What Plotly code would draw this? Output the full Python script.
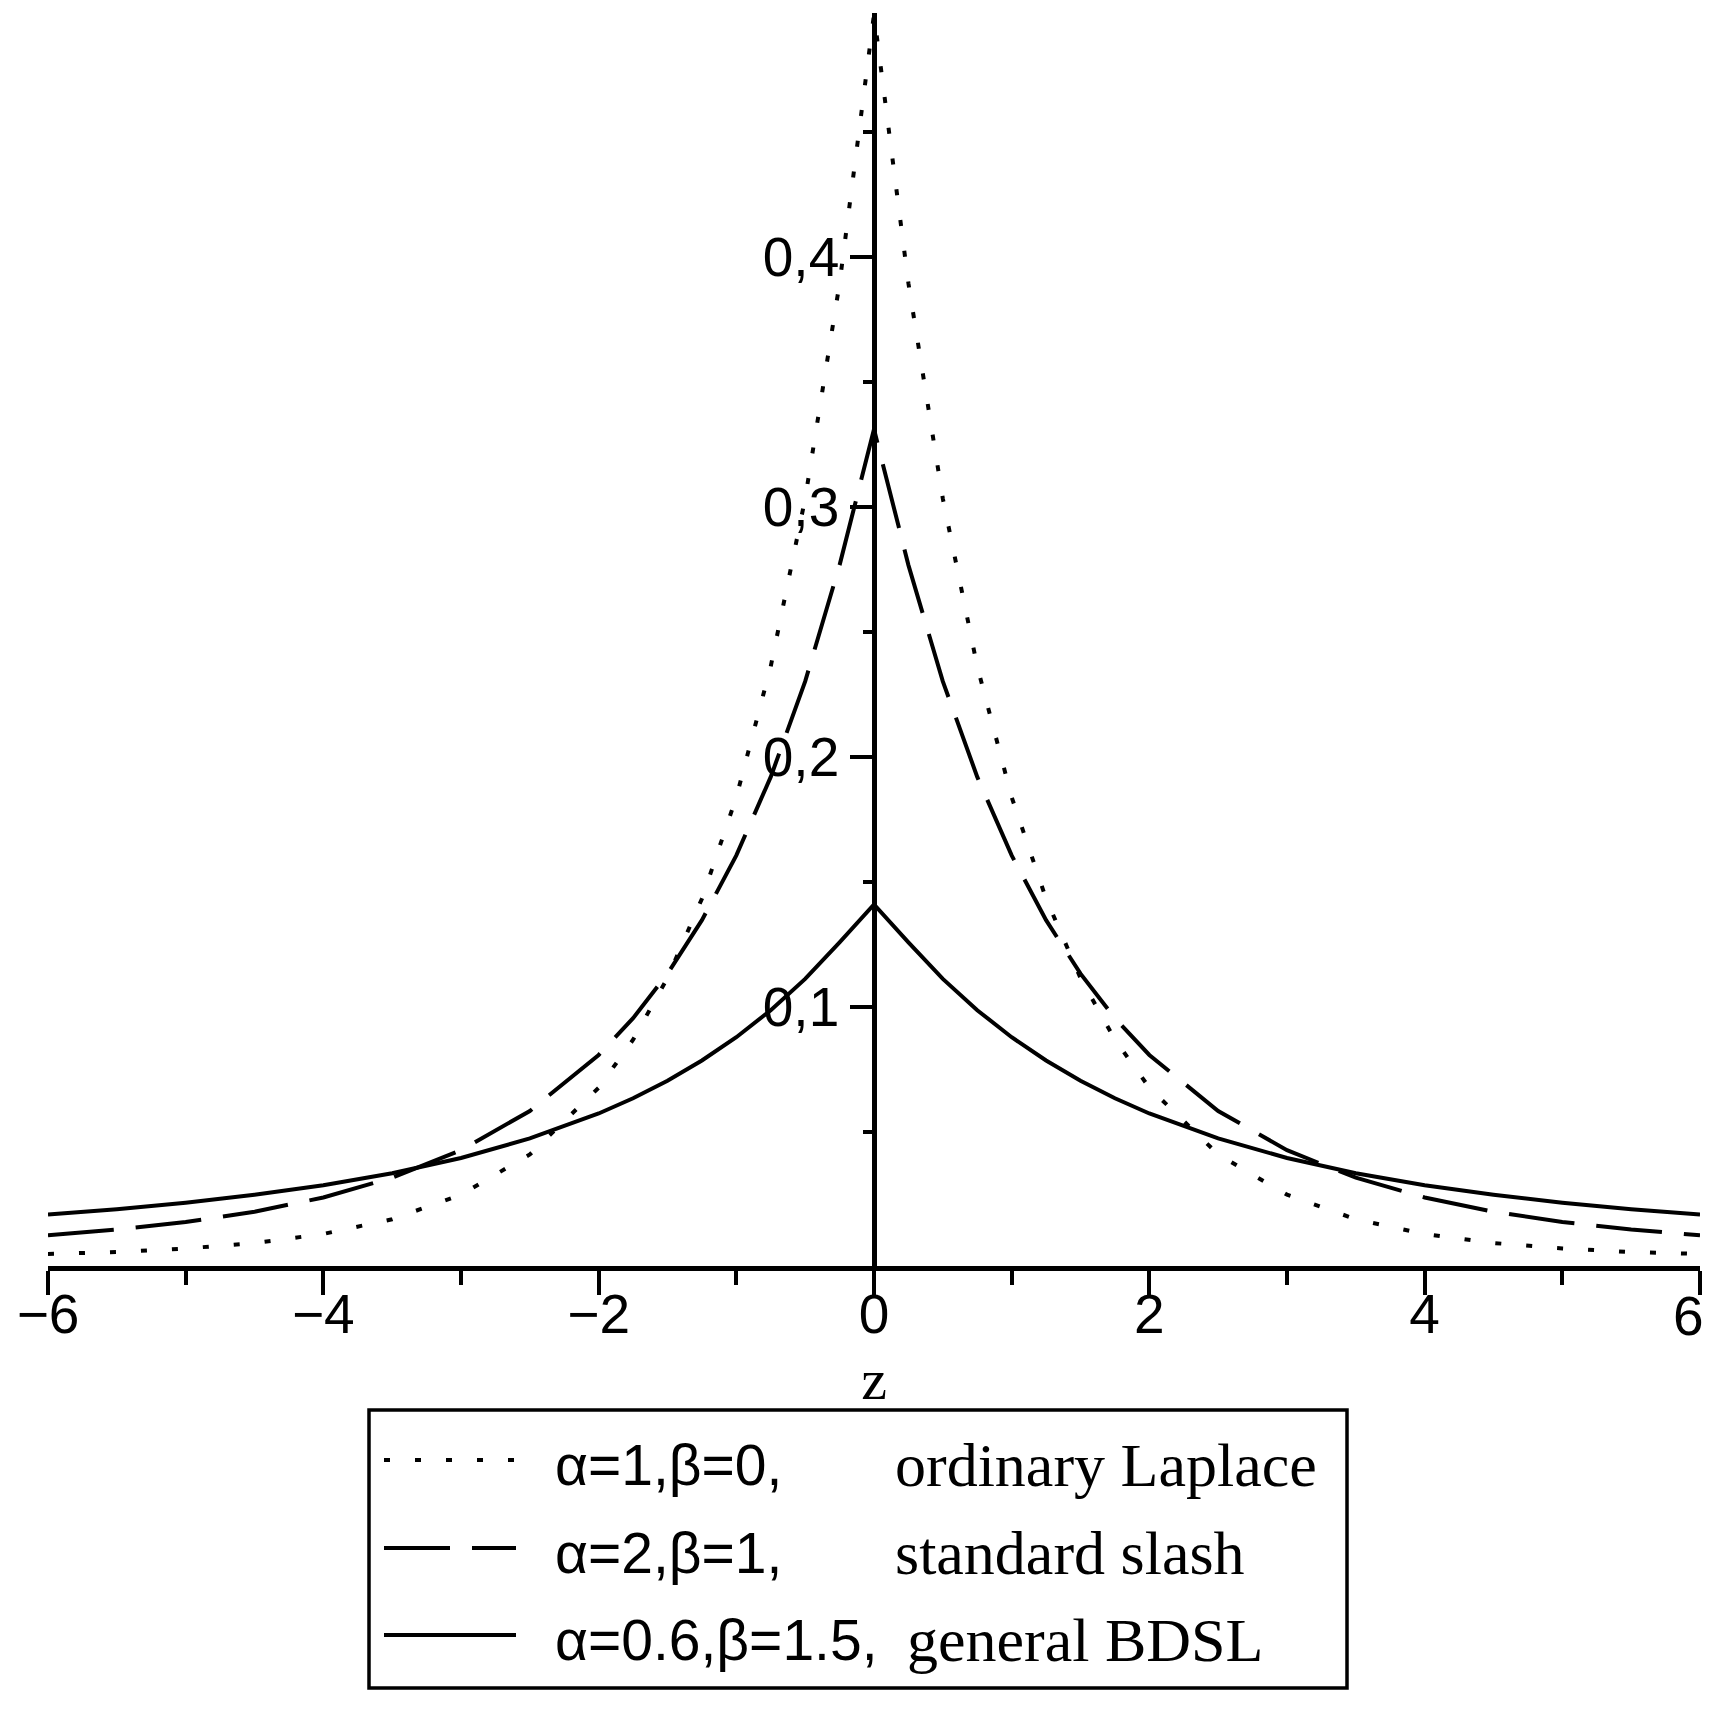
import plotly.graph_objects as go

# density curves
z = [-6, -5.5, -5, -4.5, -4, -3.5, -3, -2.5, -2, -1.75, -1.5, -1.25, -1, -0.75, -0.5, -0.25,
     0, 0.25, 0.5, 0.75, 1, 1.25, 1.5, 1.75, 2, 2.5, 3, 3.5, 4, 4.5, 5, 5.5, 6]
laplace = [0.0012, 0.0020, 0.0034, 0.0056, 0.0092, 0.0151, 0.0249, 0.0410, 0.0677, 0.0869,
           0.1116, 0.1433, 0.1839, 0.2362, 0.3033, 0.3894,
           0.497,
           0.3894, 0.3033, 0.2362, 0.1839, 0.1433, 0.1116, 0.0869, 0.0677, 0.0410, 0.0249,
           0.0151, 0.0092, 0.0056, 0.0034, 0.0020, 0.0012]
slash = [0.0087, 0.0110, 0.0140, 0.0181, 0.0238, 0.0317, 0.0427, 0.0584, 0.0808, 0.0955,
         0.1133, 0.1347, 0.1606, 0.1920, 0.2302, 0.2767,
         0.331,
         0.2767, 0.2302, 0.1920, 0.1606, 0.1347, 0.1133, 0.0955, 0.0808, 0.0584, 0.0427,
         0.0317, 0.0238, 0.0181, 0.0140, 0.0110, 0.0087]
bdsl = [0.0170, 0.0191, 0.0217, 0.0249, 0.0287, 0.0335, 0.0396, 0.0474, 0.0574, 0.0635,
        0.0705, 0.0786, 0.0879, 0.0987, 0.1112, 0.1258,
        0.141,
        0.1258, 0.1112, 0.0987, 0.0879, 0.0786, 0.0705, 0.0635, 0.0574, 0.0474, 0.0396,
        0.0335, 0.0287, 0.0249, 0.0217, 0.0191, 0.0170]

x_ticks = [-6, -4, -2, 0, 2, 4, 6]
x_tick_text = ["\u22126", "\u22124", "\u22122", "0", "2", "4", "6"]
x_minor = [-5, -3, -1, 1, 3, 5]
y_ticks = [0.1, 0.2, 0.3, 0.4]
y_tick_text = ["0,1", "0,2", "0,3", "0,4"]
y_minor = [0.05, 0.15, 0.25, 0.35, 0.45]

legend_params = ["\u03b1=1,\u03b2=0,", "\u03b1=2,\u03b2=1,", "\u03b1=0.6,\u03b2=1.5,"]
legend_names = ["ordinary Laplace", "standard slash", "general BDSL"]

# page has an 8px body margin, so the figure starts at (8, 8) in the window
OFF = 8
W, H = 1719 - OFF, 1709 - 3 * OFF
L, R, T, B = 48, 1700, 13, 1266  # plot area in window pixels

SANS = "Liberation Sans Narrow, Liberation Sans, Arial, sans-serif"
SERIF = "Liberation Serif, Times New Roman, serif"
dashes = ["6px,25px", "66px,22px", "solid"]


def px(p):
    return (p - L) / (R - L)


def py(p):
    return (B - p) / (B - T)


fig = go.Figure()
for ys, name, dash in zip([laplace, slash, bdsl], legend_names, dashes):
    fig.add_trace(go.Scatter(x=z, y=ys, mode="lines", name=name, showlegend=False,
                             line=dict(color="black", width=4, dash=dash)))

# the last x label hugs the right edge, so it is drawn left of its tick
fig.add_annotation(text=x_tick_text[-1], x=x_ticks[-1], xref="x", yref="paper",
                   y=py(1316), xanchor="right", yanchor="middle", xshift=6,
                   showarrow=False, font=dict(family=SANS, size=55, color="black"))

# hand-built legend box like the Maple one
fig.add_shape(type="rect", xref="paper", yref="paper",
              x0=px(369), x1=px(1347), y0=py(1688), y1=py(1410),
              line=dict(color="black", width=3.5), fillcolor="white")
row_line_y = [1460, 1548, 1635]
row_text_y = [1465, 1553, 1640]
name_x = [896, 896, 908]
for i in range(3):
    fig.add_shape(type="line", xref="paper", yref="paper",
                  x0=px(384), x1=px(516), y0=py(row_line_y[i]), y1=py(row_line_y[i]),
                  line=dict(color="black", width=4, dash=dashes[i]))
    fig.add_annotation(text=legend_params[i], xref="paper", yref="paper",
                       x=px(553), y=py(row_text_y[i]), xanchor="left", yanchor="middle",
                       showarrow=False, font=dict(family="Liberation Sans, Arial, sans-serif",
                                                  size=57, color="black"))
    fig.add_annotation(text=legend_names[i], xref="paper", yref="paper",
                       x=px(name_x[i] - 3), y=py(row_text_y[i]), xanchor="left",
                       yanchor="middle", showarrow=False,
                       font=dict(family=SERIF, size=62, color="black"))

fig.update_layout(
    width=W, height=H,
    margin=dict(l=L - OFF, r=W + OFF - R, t=T - OFF, b=H + OFF - B),
    paper_bgcolor="white", plot_bgcolor="white",
    xaxis=dict(
        range=[-6, 6], showgrid=False, zeroline=False,
        showline=True, linecolor="black", linewidth=4.5,
        tickmode="array", tickvals=x_ticks, ticktext=x_tick_text[:-1] + [""],
        ticks="outside", ticklen=24, tickwidth=4, tickcolor="black",
        minor=dict(tickvals=x_minor, ticks="outside", ticklen=14, tickwidth=4, tickcolor="black"),
        tickfont=dict(family=SANS, size=55, color="black"),
        ticklabelstandoff=-28,
        title=dict(text="z", font=dict(family=SERIF, size=58, color="black"), standoff=16),
    ),
    yaxis=dict(
        range=[-0.0036, 0.4975], showgrid=False, zeroline=False,
        anchor="free", position=0.5,
        showline=True, linecolor="black", linewidth=4.5,
        tickmode="array", tickvals=y_ticks, ticktext=y_tick_text,
        ticks="outside", ticklen=22, tickwidth=4, tickcolor="black",
        minor=dict(tickvals=y_minor, ticks="outside", ticklen=9, tickwidth=4, tickcolor="black"),
        tickfont=dict(family=SANS, size=55, color="black"),
    ),
)

fig.write_html("out.html")
